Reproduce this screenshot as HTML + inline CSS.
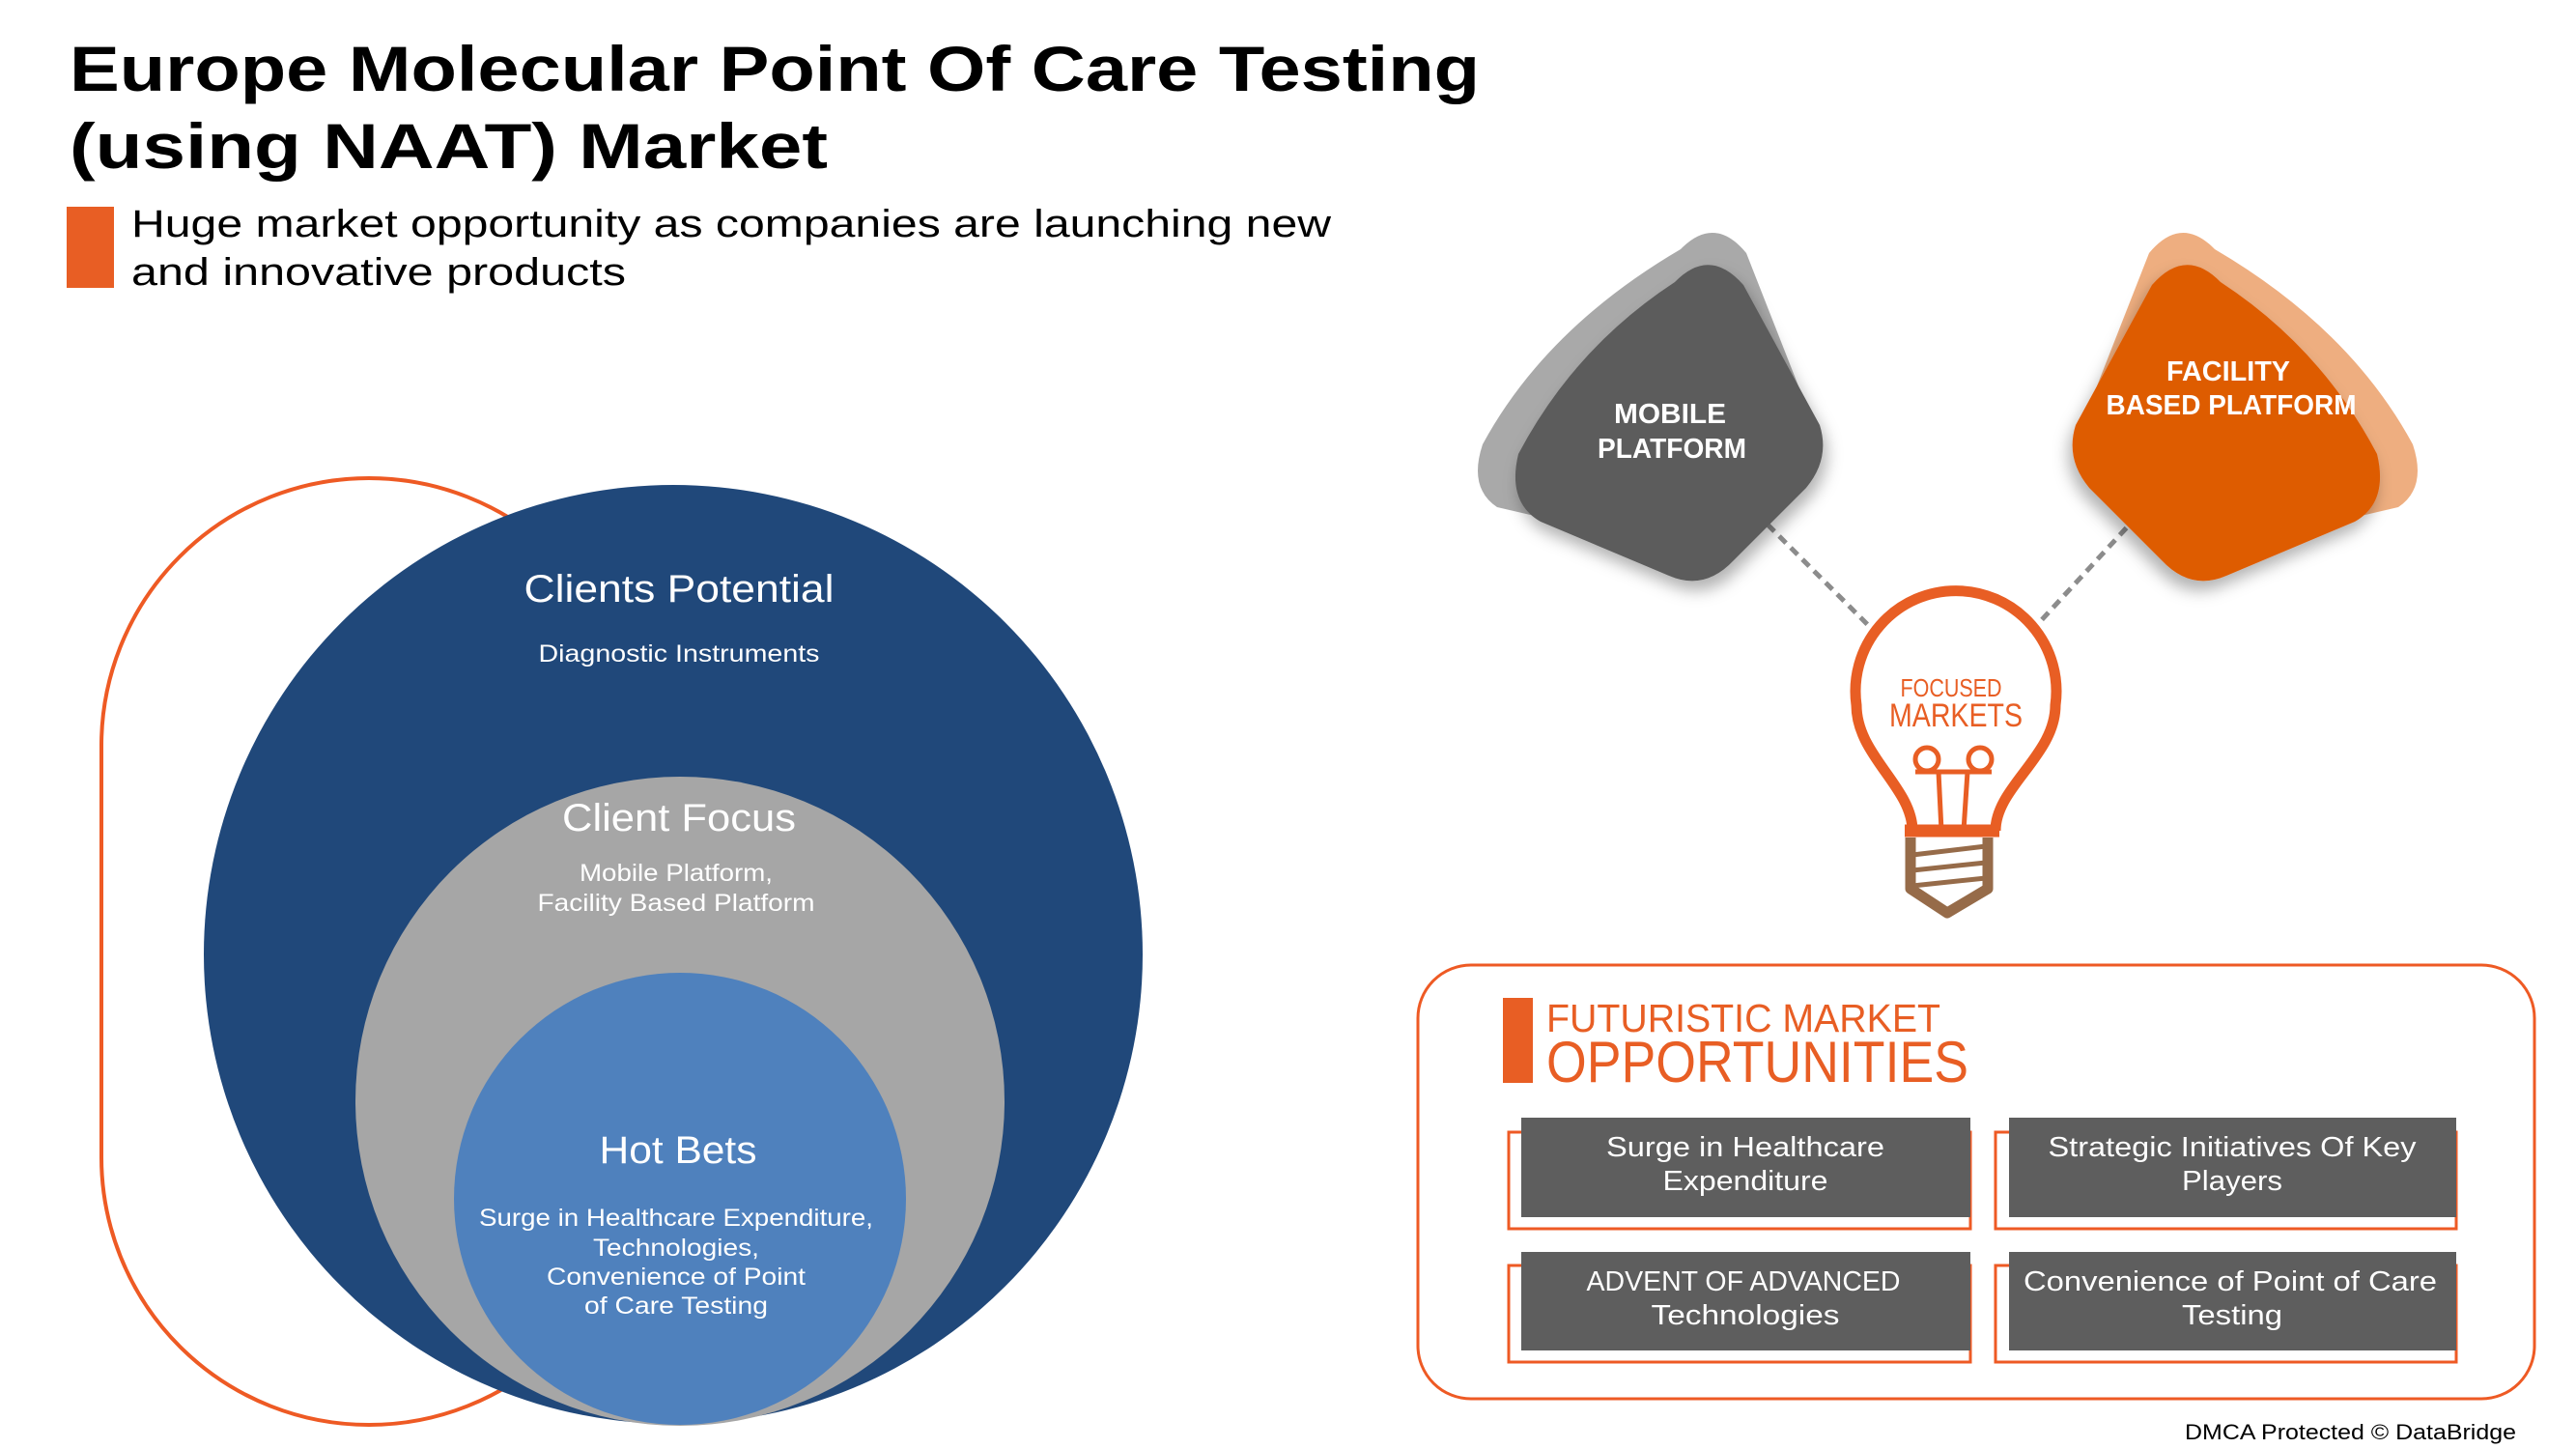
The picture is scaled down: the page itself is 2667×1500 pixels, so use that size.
<!DOCTYPE html>
<html><head><meta charset="utf-8"><style>
html,body{margin:0;padding:0;background:#fff;}
svg{display:block;}
text{font-family:"Liberation Sans",sans-serif;}
</style></head><body>
<svg width="2667" height="1500" viewBox="0 0 2667 1500" xmlns="http://www.w3.org/2000/svg">
<defs>
<filter id="sh" x="-20%" y="-20%" width="140%" height="140%"><feDropShadow dx="4" dy="10" stdDeviation="8" flood-color="#000" flood-opacity="0.3"/></filter>
</defs>
<!-- Title -->
<text x="72" y="94" font-size="66" font-weight="bold" fill="#000" textLength="1460" lengthAdjust="spacingAndGlyphs">Europe Molecular Point Of Care Testing</text>
<text x="72" y="174" font-size="66" font-weight="bold" fill="#000" textLength="785" lengthAdjust="spacingAndGlyphs">(using NAAT) Market</text>
<rect x="69" y="214" width="49" height="84" fill="#E85E24"/>
<text x="136" y="245" font-size="40" fill="#000" textLength="1242" lengthAdjust="spacingAndGlyphs">Huge market opportunity as companies are launching new</text>
<text x="136" y="295" font-size="40" fill="#000" textLength="512" lengthAdjust="spacingAndGlyphs">and innovative products</text>

<!-- Left diagram -->
<rect x="105" y="495" width="554" height="980" rx="277" ry="277" fill="none" stroke="#EE5A24" stroke-width="4"/>
<circle cx="697" cy="988" r="486" fill="#20487A"/>
<circle cx="704" cy="1140" r="336" fill="#A6A6A6"/>
<circle cx="704" cy="1241" r="234" fill="#4F81BD"/>
<g fill="#fff" text-anchor="middle">
<text x="703" y="623" font-size="40" textLength="321" lengthAdjust="spacingAndGlyphs">Clients Potential</text>
<text x="703" y="685" font-size="25" textLength="291" lengthAdjust="spacingAndGlyphs">Diagnostic Instruments</text>
<text x="703" y="860" font-size="40" textLength="242" lengthAdjust="spacingAndGlyphs">Client Focus</text>
<text x="700" y="912" font-size="25" textLength="200" lengthAdjust="spacingAndGlyphs">Mobile Platform,</text>
<text x="700" y="943" font-size="25" textLength="287" lengthAdjust="spacingAndGlyphs">Facility Based Platform</text>
<text x="702" y="1204" font-size="40" textLength="163" lengthAdjust="spacingAndGlyphs">Hot Bets</text>
<text x="700" y="1269" font-size="25" textLength="408" lengthAdjust="spacingAndGlyphs">Surge in Healthcare Expenditure,</text>
<text x="700" y="1300" font-size="25" textLength="172" lengthAdjust="spacingAndGlyphs">Technologies,</text>
<text x="700" y="1330" font-size="25" textLength="268" lengthAdjust="spacingAndGlyphs">Convenience of Point</text>
<text x="700" y="1360" font-size="25" textLength="190" lengthAdjust="spacingAndGlyphs">of Care Testing</text>
</g>

<!-- Dashed connectors -->
<line x1="1830" y1="543" x2="1942" y2="655" stroke="#8C8C8C" stroke-width="5" stroke-dasharray="10 7"/>
<line x1="2213" y1="534" x2="2108" y2="648" stroke="#8C8C8C" stroke-width="5" stroke-dasharray="10 7"/>

<!-- Mobile platform shape -->
<path d="M1740,258 Q1775,222 1808,262 L1870,420 L1700,560 L1550,525 Q1520,505 1535,460 Q1600,340 1740,258 Z" fill="#A9A9A9"/>
<path d="M1734,292 Q1770,255 1805,295 L1884,440 Q1895,475 1870,505 L1795,580 Q1765,612 1728,596 L1595,540 Q1560,520 1572,470 Q1630,360 1734,292 Z" fill="#5B5B5B" filter="url(#sh)"/>
<!-- Facility shape (mirrored) -->
<g transform="matrix(-1,0,0,1,4033,0)">
<path d="M1740,258 Q1775,222 1808,262 L1870,420 L1700,560 L1550,525 Q1520,505 1535,460 Q1600,340 1740,258 Z" fill="#EEAE80"/>
<path d="M1734,292 Q1770,255 1805,295 L1884,440 Q1895,475 1870,505 L1795,580 Q1765,612 1728,596 L1595,540 Q1560,520 1572,470 Q1630,360 1734,292 Z" fill="#DE5B03" filter="url(#sh)"/>
</g>
<g fill="#fff" font-weight="bold" text-anchor="middle" font-size="29">
<text x="1729" y="438" textLength="116" lengthAdjust="spacingAndGlyphs">MOBILE</text>
<text x="1731" y="474" textLength="154" lengthAdjust="spacingAndGlyphs">PLATFORM</text>
<text x="2307" y="394" textLength="128" lengthAdjust="spacingAndGlyphs">FACILITY</text>
<text x="2310" y="429" textLength="259" lengthAdjust="spacingAndGlyphs">BASED PLATFORM</text>
</g>

<!-- Bulb -->
<g transform="translate(0,10)">
<path d="M1980,850 C1980,805 1922,772 1922,720 A104,104 0 1 1 2128,720 C2128,772 2066,805 2066,850" fill="#fff" stroke="#E85E24" stroke-width="11"/>
<line x1="1972" y1="850" x2="2070" y2="850" stroke="#E85E24" stroke-width="13"/>
<g fill="none" stroke="#E85E24" stroke-width="5">
<circle cx="1995" cy="776" r="12"/>
<circle cx="2050" cy="776" r="12"/>
<line x1="1983" y1="789" x2="2062" y2="789"/>
<line x1="2007" y1="789" x2="2010" y2="850"/>
<line x1="2037" y1="789" x2="2033" y2="850"/>
</g>
<path d="M1978,857 L1978,910 L2016,935 L2058,910 L2058,857" fill="none" stroke="#966B49" stroke-width="11" stroke-linejoin="round"/>
<g stroke="#966B49" stroke-width="5">
<line x1="1980" y1="875" x2="2056" y2="866"/>
<line x1="1980" y1="891" x2="2056" y2="883"/>
<line x1="1980" y1="907" x2="2056" y2="899"/>
</g>
<text x="2020" y="711" font-size="26" fill="#E85E24" text-anchor="middle" textLength="105" lengthAdjust="spacingAndGlyphs">FOCUSED</text>
<text x="2025" y="742" font-size="34" fill="#E85E24" text-anchor="middle" textLength="138" lengthAdjust="spacingAndGlyphs">MARKETS</text>
</g>

<!-- Opportunities box -->
<rect x="1468" y="999" width="1156" height="449" rx="55" ry="55" fill="none" stroke="#EE5A24" stroke-width="3"/>
<rect x="1556" y="1033" width="31" height="88" fill="#E85E24"/>
<text x="1601" y="1068" font-size="41" fill="#E85E24" textLength="408" lengthAdjust="spacingAndGlyphs">FUTURISTIC MARKET</text>
<text x="1601" y="1120" font-size="60" fill="#E85E24" textLength="437" lengthAdjust="spacingAndGlyphs">OPPORTUNITIES</text>

<g fill="none" stroke="#EE5A24" stroke-width="3">
<rect x="1562" y="1172" width="478" height="100"/>
<rect x="2066" y="1172" width="477" height="100"/>
<rect x="1562" y="1310" width="478" height="100"/>
<rect x="2066" y="1310" width="477" height="100"/>
</g>
<g fill="#5E5E5E">
<rect x="1575" y="1157" width="465" height="103"/>
<rect x="2080" y="1157" width="463" height="103"/>
<rect x="1575" y="1296" width="465" height="102"/>
<rect x="2080" y="1296" width="463" height="102"/>
</g>
<g fill="#fff" font-size="29" text-anchor="middle">
<text x="1807" y="1197" textLength="288" lengthAdjust="spacingAndGlyphs">Surge in Healthcare</text>
<text x="1807" y="1232" textLength="171" lengthAdjust="spacingAndGlyphs">Expenditure</text>
<text x="2311" y="1197" textLength="381" lengthAdjust="spacingAndGlyphs">Strategic Initiatives Of Key</text>
<text x="2311" y="1232" textLength="104" lengthAdjust="spacingAndGlyphs">Players</text>
<text x="1805" y="1336" textLength="325" lengthAdjust="spacingAndGlyphs">ADVENT OF ADVANCED</text>
<text x="1807" y="1371" textLength="195" lengthAdjust="spacingAndGlyphs">Technologies</text>
<text x="2309" y="1336" textLength="428" lengthAdjust="spacingAndGlyphs">Convenience of Point of Care</text>
<text x="2311" y="1371" textLength="104" lengthAdjust="spacingAndGlyphs">Testing</text>
</g>
<text x="2605" y="1490" font-size="22" fill="#000" text-anchor="end" textLength="343" lengthAdjust="spacingAndGlyphs">DMCA Protected © DataBridge</text>
</svg>
</body></html>
